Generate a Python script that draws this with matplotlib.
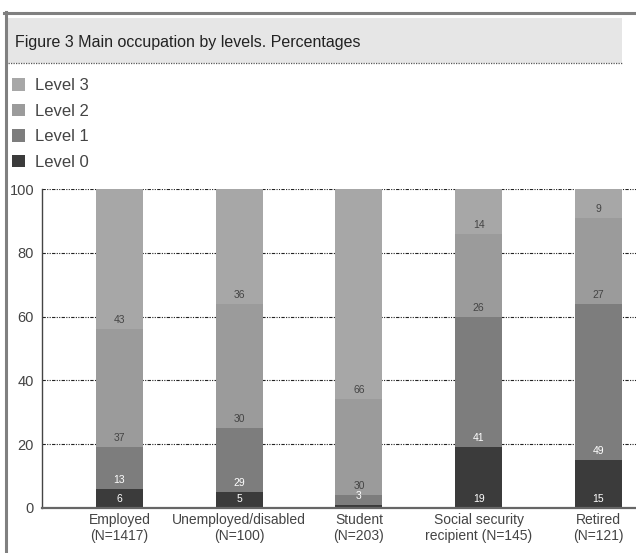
import matplotlib.pyplot as plt
from matplotlib.patches import Rectangle
from matplotlib.lines import Line2D

plt.rcParams['font.family'] = ['Liberation Sans Narrow', 'Liberation Sans', 'DejaVu Sans']

# Categorias
categorias = ['Employed\n(N=1417)', 'Unemployed/disabled\n(N=100)', 'Student\n(N=203)',
              'Social security\nrecipient (N=145)', 'Retired\n(N=121)']

# Alturas de las barras tal como se dibujan
level0 = [6, 5, 1, 19, 15]
level1 = [13, 20, 3, 41, 49]
level2 = [37, 39, 30, 26, 27]
level3 = [44, 36, 66, 14, 9]

# Numeros impresos en las barras (Unemployed no coincide con la altura en el original)
label0 = ['6', '5', '', '19', '15']
label1 = ['13', '29', '3', '41', '49']
label2 = ['37', '30', '30', '26', '27']
label3 = ['43', '36', '66', '14', '9']

nombres = ['Level 0', 'Level 1', 'Level 2', 'Level 3']
colores = ['#3b3b3b', '#7d7d7d', '#9b9b9b', '#a7a7a7']
color_texto = ['white', 'white', '#444444', '#444444']

W, H = 636, 553
fig = plt.figure(figsize=(W / 100, H / 100), dpi=100)

# Marco y barra de titulo
fig.add_artist(Line2D([4 / W, 1], [1 - 13 / H, 1 - 13 / H], color='#808080', lw=2.2))
fig.add_artist(Line2D([5.5 / W, 5.5 / W], [0, 1 - 12 / H], color='#808080', lw=2.2))
fig.add_artist(Rectangle((8 / W, 1 - 63 / H), 614 / W, 45 / H, color='#e6e6e6', lw=0))
fig.add_artist(Line2D([8 / W, 622 / W], [1 - 63 / H, 1 - 63 / H], color='#555555',
                      lw=0.9, linestyle=(0, (1, 1))))
fig.text(15 / W, 1 - 42 / H, 'Figure 3 Main occupation by levels. Percentages',
         fontsize=11.5, color='#222222', va='center', ha='left')

ax = fig.add_axes([41.7 / W, 1 - 507.7 / H, 1 - 41.7 / W, 318.4 / H])

x = range(len(categorias))
ancho = 0.392
abajo = [0] * len(categorias)
barras = []
for vals, etiquetas, col, ctxt, nombre in zip([level0, level1, level2, level3],
                                               [label0, label1, label2, label3],
                                               colores, color_texto, nombres):
    b = ax.bar(x, vals, ancho, bottom=abajo, color=col, label=nombre, zorder=2)
    barras.append(b)
    for xi, base, txt in zip(x, abajo, etiquetas):
        if txt:
            ax.annotate(txt, (xi, base), xytext=(0, 9), textcoords='offset pixels',
                        ha='center', va='center', fontsize=7.5, color=ctxt, zorder=3)
    abajo = [a + v for a, v in zip(abajo, vals)]

ax.set_xlim(-0.648, 4.313)
ax.set_ylim(0, 100)
ax.set_yticks([0, 20, 40, 60, 80, 100])
ax.set_xticks(list(x))
ax.set_xticklabels(categorias, fontsize=10, color='#444444', linespacing=1.15)
ax.tick_params(axis='both', length=0, labelsize=10.5, colors='#444444')
ax.tick_params(axis='y', pad=5.5)
ax.tick_params(axis='x', pad=4, labelsize=10)

ax.yaxis.grid(True, color='#222222', lw=0.8, linestyle=(0, (3, 1.2, 1, 1.2, 1, 1.2)))
ax.set_axisbelow(True)
for s in ['top', 'right']:
    ax.spines[s].set_visible(False)
ax.spines['left'].set_color('#444444')
ax.spines['left'].set_linewidth(1.0)
ax.spines['bottom'].set_color('#666666')
ax.spines['bottom'].set_linewidth(1.6)

# Leyenda (orden inverso)
fig.legend(barras[::-1], nombres[::-1], loc='upper left', bbox_to_anchor=(12 / W, 1 - 78 / H),
           frameon=False, fontsize=12, handlelength=0.8, handleheight=0.8,
           handletextpad=0.6, labelspacing=0.62, borderpad=0, borderaxespad=0,
           labelcolor='#444444')

fig.savefig('out.png', dpi=100)
